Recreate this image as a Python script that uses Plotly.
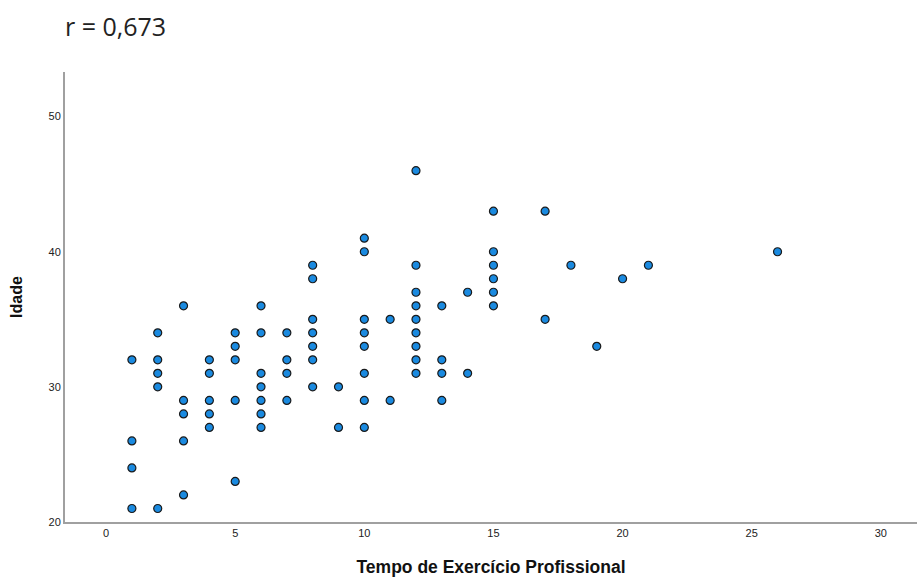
import plotly.graph_objects as go

# Tempo de Exercício Profissional (x) and Idade (y)
tempo = [
    1, 1, 1, 1,
    2, 2, 2, 2, 2,
    3, 3, 3, 3, 3,
    4, 4, 4, 4, 4,
    5, 5, 5, 5, 5,
    6, 6, 6, 6, 6, 6, 6,
    7, 7, 7, 7,
    8, 8, 8, 8, 8, 8, 8,
    9, 9,
    10, 10, 10, 10, 10, 10, 10, 10,
    11, 11,
    12, 12, 12, 12, 12, 12, 12, 12, 12,
    13, 13, 13, 13,
    14, 14,
    15, 15, 15, 15, 15, 15,
    17, 17,
    18, 19, 20, 21, 26,
]
idade = [
    32, 26, 24, 21,
    34, 32, 31, 30, 21,
    36, 29, 28, 26, 22,
    32, 31, 29, 28, 27,
    34, 33, 32, 29, 23,
    36, 34, 31, 30, 29, 28, 27,
    34, 32, 31, 29,
    39, 38, 35, 34, 33, 32, 30,
    30, 27,
    41, 40, 35, 34, 33, 31, 29, 27,
    35, 29,
    46, 39, 37, 36, 35, 34, 33, 32, 31,
    36, 32, 31, 29,
    37, 31,
    43, 40, 39, 38, 37, 36,
    43, 35,
    39, 33, 38, 39, 40,
]

x_ticks = [0, 5, 10, 15, 20, 25, 30]
y_ticks = [20, 30, 40, 50]

fig = go.Figure()
fig.add_trace(go.Scatter(
    x=tempo, y=idade, mode="markers",
    marker=dict(size=8, color="#1a8ae0", line=dict(color="#1a1a1a", width=1.2)),
    showlegend=False, hoverinfo="x+y",
))

tick_font = dict(family="Liberation Sans Narrow, Arial Narrow, Liberation Sans, Arial", size=11, color="#222")
fig.update_layout(
    width=917, height=577,
    margin=dict(l=65, r=0, t=72, b=55),
    paper_bgcolor="white", plot_bgcolor="white",
    title=dict(text="r = 0,673", x=0, xref="paper", xanchor="left", y=0.953, yref="container",
               yanchor="middle",
               font=dict(family="Open Sans, Noto Sans, sans-serif", size=25, color="#222")),
    xaxis=dict(range=[-1.59, 31.4], tickvals=x_ticks, showgrid=False, zeroline=False,
               showline=True, linecolor="#a0a0a0", linewidth=2, ticks="", tickfont=tick_font,
               title=dict(text="<b>Tempo de Exercício Profissional</b>", standoff=25,
                          font=dict(family="Liberation Sans, Arial", size=17.5, color="#111"))),
    yaxis=dict(range=[20, 53.3], tickvals=y_ticks, showgrid=False, zeroline=False,
               showline=True, linecolor="#a0a0a0", linewidth=2, ticks="", tickfont=tick_font,
               title=dict(text="<b>Idade</b>", standoff=22,
                          font=dict(family="Liberation Sans, Arial", size=16, color="#111"))),
)
fig.write_html("out.html")
